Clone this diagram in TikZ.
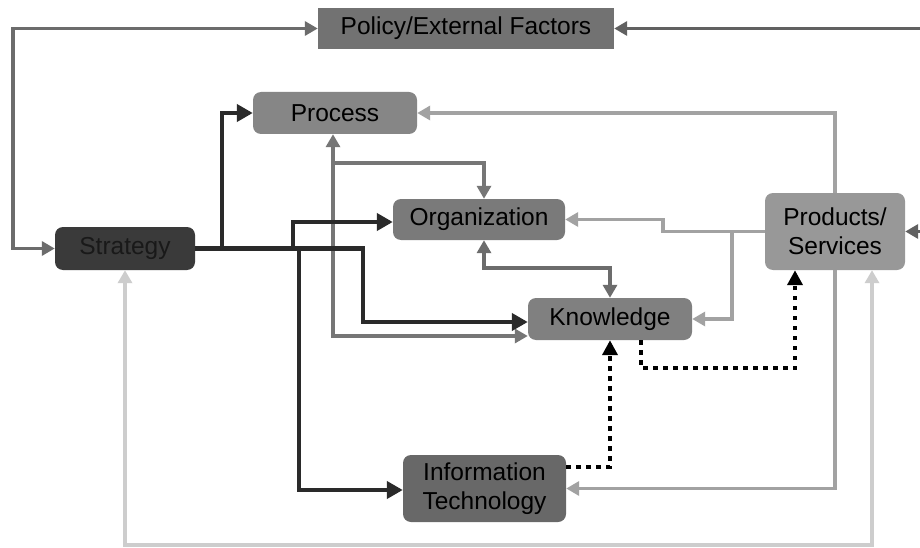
\documentclass[tikz,border=0pt]{standalone}
\usepackage{fontspec}
\setmainfont{Liberation Sans}
\usetikzlibrary{arrows.meta}
\definecolor{cPol}{HTML}{727272}
\definecolor{cProc}{HTML}{868686}
\definecolor{cStr}{HTML}{3A3A3A}
\definecolor{cOrg}{HTML}{7A7A7A}
\definecolor{cKnow}{HTML}{808080}
\definecolor{cProd}{HTML}{989898}
\definecolor{cIT}{HTML}{686868}
\definecolor{eMid}{HTML}{6C6C6C}
\definecolor{eDark}{HTML}{2A2A2A}
\definecolor{eProc}{HTML}{767676}
\definecolor{eLight}{HTML}{A2A2A2}
\definecolor{ePale}{HTML}{CDCDCD}
\tikzset{
  box/.style={rounded corners=8pt, inner sep=0pt, text=black,
    font=\fontsize{24.5}{29}\selectfont, align=center},
  gtip/.style={arrows={-Triangle[length=13pt,width=14pt]}},
  gtips/.style={arrows={Triangle[length=13pt,width=14pt]-Triangle[length=13pt,width=14pt]}},
  grayline/.style={line width=3.6pt, gtip},
  darkline/.style={line width=4.6pt, draw=eDark, arrows={-Triangle[length=16pt,width=17pt]}},
  dotline/.style={line width=4.5pt, draw=black, dash pattern=on 4.5pt off 5.5pt,
    arrows={-Triangle[length=15pt,width=15pt]}},
}
\begin{document}
\begin{tikzpicture}[x=1pt,y=-1pt]
\useasboundingbox (0,0) rectangle (920,548);
\fill[white] (0,0) rectangle (920,548);

% nodes
\node[box, rounded corners=0pt, fill=cPol, minimum width=296pt, minimum height=41pt] (pol) at (466,28.5) {Policy/External Factors};
\node[box, fill=cProc, minimum width=164pt, minimum height=42pt] (proc) at (335,113) {Process};
\node[box, fill=cStr, text=black!90, minimum width=140pt, minimum height=43pt] (str) at (125,248.5) {Strategy};
\node[box, fill=cOrg, minimum width=172pt, minimum height=41pt] (org) at (479,219.5) {Organization};
\node[box, fill=cProd, minimum width=140pt, minimum height=77pt] (prod) at (835,231.5) {Products/\\Services};
\node[box, fill=cKnow, minimum width=164pt, minimum height=42pt] (know) at (610,319) {Knowledge};
\node[box, fill=cIT, minimum width=163pt, minimum height=67pt] (it) at (484.5,488.5) {Information\\Technology};

% junction points
\coordinate (off) at (938,28.5);
\coordinate (sj1) at (222,248.5);
\coordinate (sj2) at (293,248.5);
\coordinate (sj3) at (299,248.5);
\coordinate (sj4) at (363,248.5);
\coordinate (pj) at (333,163);
\coordinate (oj) at (663,219.5);
\coordinate (kj) at (732,231.5);
\coordinate (bj) at (125,545);

% pale loop between strategy and products
\draw[grayline, draw=ePale, gtips] (str.south) -- (bj) -| ([xshift=37pt]prod.south);

% strategy and policy
\draw[grayline, draw=eMid, gtips] (str.west) -- ++(-42,0) |- (pol.west);
\draw[grayline, draw=eMid!90!black, gtips] (pol.east) -- (off) |- (prod.east);

% products outputs
\draw[grayline, draw=eLight] (prod.north) |- (proc.east);
\draw[grayline, draw=eLight] (prod.west) -| (oj) -- (org.east);
\draw[grayline, draw=eLight] (kj) |- (know.east);
\draw[grayline, draw=eLight] (prod.south) |- (it.east);

% process links
\draw[grayline, draw=eProc, gtips] ([xshift=-2pt]proc.south) |- ([yshift=-17pt]know.west);
\draw[grayline, draw=eProc] (pj) -| ([xshift=5pt]org.north);

% organization and knowledge
\draw[grayline, draw=eMid, gtips] ([xshift=5pt]org.south) -- ++(0,28) -| (know.north);

% strategy outputs
\draw[darkline] (str.east) -- (sj1) |- (proc.west);
\draw[darkline] (str.east) -- (sj2) |- ([yshift=-2.5pt]org.west);
\draw[darkline] (str.east) -- (sj3) |- ([yshift=-1.5pt]it.west);
\draw[darkline] (str.east) -- (sj4) |- ([yshift=-3pt]know.west);

% dotted links
\draw[dotline] ([yshift=21.5pt]it.east) -| (know.south);
\draw[dotline] ([xshift=31pt]know.south) -- ++(0,28) -| ([xshift=-40pt]prod.south);
\end{tikzpicture}
\end{document}
